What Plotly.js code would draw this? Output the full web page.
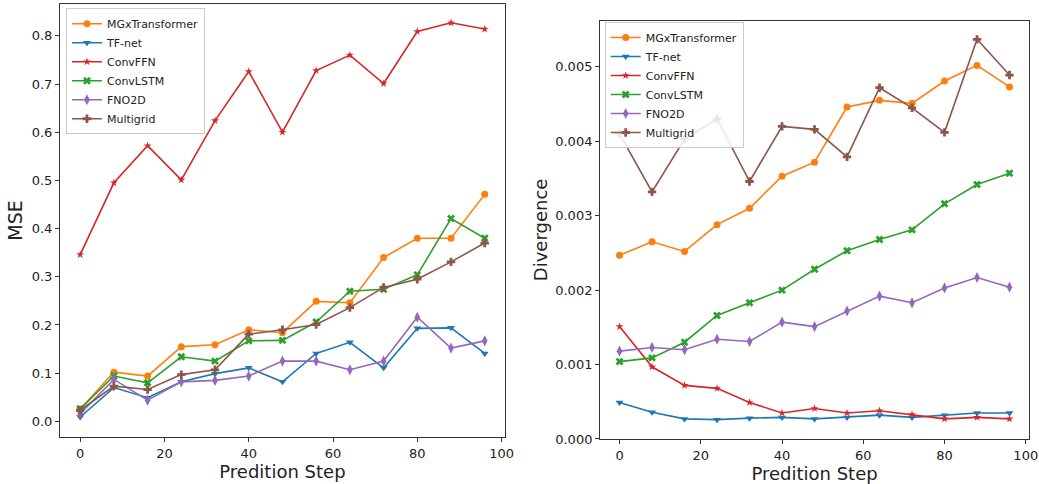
<!DOCTYPE html>
<html>
<head>
<meta charset="utf-8">
<script src="https://cdn.plot.ly/plotly-3.0.1.min.js"></script>
<style>html,body{margin:0;padding:0;background:#fff;}#chart{width:1039px;height:484px;}</style>
</head>
<body>
<div id="chart"></div>
<script>
const steps = [0, 8, 16, 24, 32, 40, 48, 56, 64, 72, 80, 88, 96];
const seriesNames = ["MGxTransformer", "TF-net", "ConvFFN", "ConvLSTM", "FNO2D", "Multigrid"];

// MSE (left panel)
const mseMGxTransformer = [0.025, 0.102, 0.094, 0.155, 0.159, 0.190, 0.184, 0.249, 0.246, 0.340, 0.380, 0.380, 0.471];
const mseTFnet          = [0.009, 0.070, 0.049, 0.082, 0.099, 0.111, 0.082, 0.141, 0.164, 0.111, 0.193, 0.194, 0.141];
const mseConvFFN        = [0.346, 0.495, 0.572, 0.501, 0.624, 0.726, 0.600, 0.728, 0.760, 0.701, 0.809, 0.827, 0.814];
const mseConvLSTM       = [0.026, 0.094, 0.080, 0.134, 0.125, 0.167, 0.168, 0.206, 0.270, 0.274, 0.304, 0.421, 0.380];
const mseFNO2D          = [0.016, 0.087, 0.044, 0.082, 0.085, 0.094, 0.125, 0.125, 0.107, 0.125, 0.216, 0.152, 0.167];
const mseMultigrid      = [0.023, 0.073, 0.066, 0.097, 0.107, 0.181, 0.190, 0.201, 0.236, 0.278, 0.295, 0.331, 0.370];

// Divergence (right panel)
const divMGxTransformer = [0.00247, 0.00265, 0.00252, 0.00288, 0.00310, 0.00353, 0.00372, 0.00446, 0.00455, 0.00451, 0.00481, 0.00502, 0.00473];
const divTFnet          = [0.00049, 0.00036, 0.00027, 0.00026, 0.00028, 0.00029, 0.00027, 0.00029, 0.00032, 0.00029, 0.00032, 0.00035, 0.00035];
const divConvFFN        = [0.00151, 0.00097, 0.00072, 0.00068, 0.00049, 0.00035, 0.00041, 0.00035, 0.00038, 0.00033, 0.00027, 0.00029, 0.00027];
const divConvLSTM       = [0.00104, 0.00109, 0.00130, 0.00166, 0.00183, 0.00200, 0.00228, 0.00253, 0.00268, 0.00281, 0.00316, 0.00342, 0.00357];
const divFNO2D          = [0.00118, 0.00123, 0.00120, 0.00134, 0.00131, 0.00157, 0.00151, 0.00172, 0.00192, 0.00183, 0.00203, 0.00217, 0.00204];
const divMultigrid      = [0.00410, 0.00332, 0.00403, 0.00430, 0.00346, 0.00420, 0.00416, 0.00379, 0.00472, 0.00445, 0.00412, 0.00537, 0.00489];

const xTitle = "Predition Step";
const yTitleLeft = "MSE";
const yTitleRight = "Divergence";

const colors = ["#ff7f0e", "#1f77b4", "#d62728", "#2ca02c", "#9467bd", "#8c564b"];
const symbols = ["circle", "triangle-down", "star", "x", "diamond-tall", "cross"];
const sizes = [7, 7, 6, 7, 8, 7];

const mseData = [mseMGxTransformer, mseTFnet, mseConvFFN, mseConvLSTM, mseFNO2D, mseMultigrid];
const divData = [divMGxTransformer, divTFnet, divConvFFN, divConvLSTM, divFNO2D, divMultigrid];

const traces = [];
seriesNames.forEach((name, i) => {
  traces.push({
    x: steps, y: mseData[i], name: name, type: "scatter", mode: "lines+markers",
    line: {color: colors[i], width: 1.6},
    marker: {color: colors[i], symbol: symbols[i], size: sizes[i], line: {width: 0}},
    xaxis: "x", yaxis: "y", legend: "legend"
  });
});
seriesNames.forEach((name, i) => {
  traces.push({
    x: steps, y: divData[i], name: name, type: "scatter", mode: "lines+markers",
    line: {color: colors[i], width: 1.6},
    marker: {color: colors[i], symbol: symbols[i], size: sizes[i], line: {width: 0}},
    xaxis: "x2", yaxis: "y2", legend: "legend2"
  });
});

const font = "DejaVu Sans, sans-serif";
const axisCommon = {
  showline: true, mirror: true, linecolor: "#333", linewidth: 1,
  ticks: "outside", ticklen: 4, tickcolor: "#333", tickwidth: 1,
  showgrid: false, zeroline: false,
  tickfont: {family: font, size: 13, color: "#222"}
};

const layout = {
  width: 1039, height: 484,
  margin: {l: 0, r: 0, t: 0, b: 0},
  paper_bgcolor: "#fff", plot_bgcolor: "#fff",
  font: {family: font, color: "#222"},
  showlegend: true,
  xaxis: Object.assign({}, axisCommon, {
    domain: [0.0577, 0.486], range: [-4.8, 100.8], dtick: 20, tick0: 0,
    anchor: "y",
    title: {text: xTitle, font: {family: font, size: 18, color: "#222"}, standoff: 2}
  }),
  yaxis: Object.assign({}, axisCommon, {
    domain: [0.0971, 0.9917], range: [-0.0325, 0.866], dtick: 0.1, tick0: 0, tickformat: ".1f",
    anchor: "x",
    title: {text: yTitleLeft, font: {family: font, size: 19, color: "#222"}, standoff: 4}
  }),
  xaxis2: Object.assign({}, axisCommon, {
    domain: [0.5775, 0.9904], range: [-4.8, 100.8], dtick: 20, tick0: 0,
    anchor: "y2",
    title: {text: xTitle, font: {family: font, size: 18, color: "#222"}, standoff: 2}
  }),
  yaxis2: Object.assign({}, axisCommon, {
    domain: [0.093, 0.9572], range: [0, 0.00562], dtick: 0.001, tick0: 0, tickformat: ".3f",
    anchor: "x2",
    title: {text: yTitleRight, font: {family: font, size: 18, color: "#222"}, standoff: 2}
  }),
  legend: {
    x: 0.0635, y: 0.983, xanchor: "left", yanchor: "top",
    bgcolor: "rgba(255,255,255,0.85)", bordercolor: "#ccc", borderwidth: 1,
    font: {family: font, size: 11, color: "#222"}, tracegroupgap: 0, itemwidth: 30
  },
  legend2: {
    x: 0.582, y: 0.9545, xanchor: "left", yanchor: "top",
    bgcolor: "rgba(255,255,255,0.85)", bordercolor: "#ccc", borderwidth: 1,
    font: {family: font, size: 11, color: "#222"}, tracegroupgap: 0, itemwidth: 30
  }
};

Plotly.newPlot("chart", traces, layout, {displayModeBar: false, staticPlot: true});
</script>
</body>
</html>
